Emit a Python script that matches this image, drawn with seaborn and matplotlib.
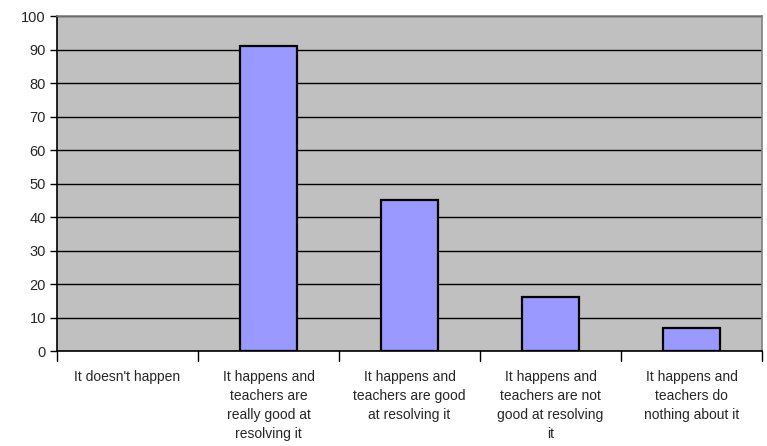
import pandas as pd
import matplotlib
matplotlib.use("Agg")
import matplotlib.pyplot as plt
import seaborn as sns

categories = ["It doesn't happen",
              "It happens and\nteachers are\nreally good at\nresolving it",
              "It happens and\nteachers are good\nat resolving it",
              "It happens and\nteachers are not\ngood at resolving\nit",
              "It happens and\nteachers do\nnothing about it"]
values = [0, 91, 45, 16, 7]
yticks = list(range(0, 101, 10))

df = pd.DataFrame({'Response': categories, 'Percent': values})

sns.set_style("white")
plt.rcParams['font.family'] = ['Liberation Sans', 'DejaVu Sans']

fig = plt.figure(figsize=(7.67, 4.46), dpi=100)
ax = fig.add_axes([0.0743, 0.213, 0.9192, 0.751])
ax.set_facecolor('#C0C0C0')

sns.barplot(x='Response', y='Percent', data=df, color='#9999FF', saturation=1,
            edgecolor='black', linewidth=1.6, width=0.4, ax=ax, zorder=3)

# hide the outline of empty bars
for p in ax.patches:
    if p.get_height() == 0:
        p.set_visible(False)

ax.set_ylim(0, 100)
ax.set_xlim(-0.5, len(categories) - 0.5)
ax.set_yticks(yticks)
ax.set_yticklabels([str(t) for t in yticks], fontsize=10.5)
ax.yaxis.grid(True, color='black', linewidth=1.0, zorder=1)
ax.set_axisbelow(True)

ax.set_xticks(range(len(categories)))
ax.set_xticklabels(categories, fontsize=10, linespacing=1.45, va='top')
ax.tick_params(axis='x', length=0, pad=14)
for b in [i - 0.5 for i in range(len(categories) + 1)]:
    ax.plot([b, b], [0, -3], color='black', lw=1, clip_on=False, zorder=4)
ax.tick_params(axis='y', length=5, width=1, color='black', direction='out', pad=3)
ax.yaxis.set_ticks_position('left')

ax.set_xlabel("")
ax.set_ylabel("")
for s in ['left', 'bottom']:
    ax.spines[s].set_color('black')
    ax.spines[s].set_linewidth(1.2)
for s in ['top', 'right']:
    ax.spines[s].set_color('#808080')
    ax.spines[s].set_linewidth(1.2)

fig.savefig("out.png", dpi=100)
